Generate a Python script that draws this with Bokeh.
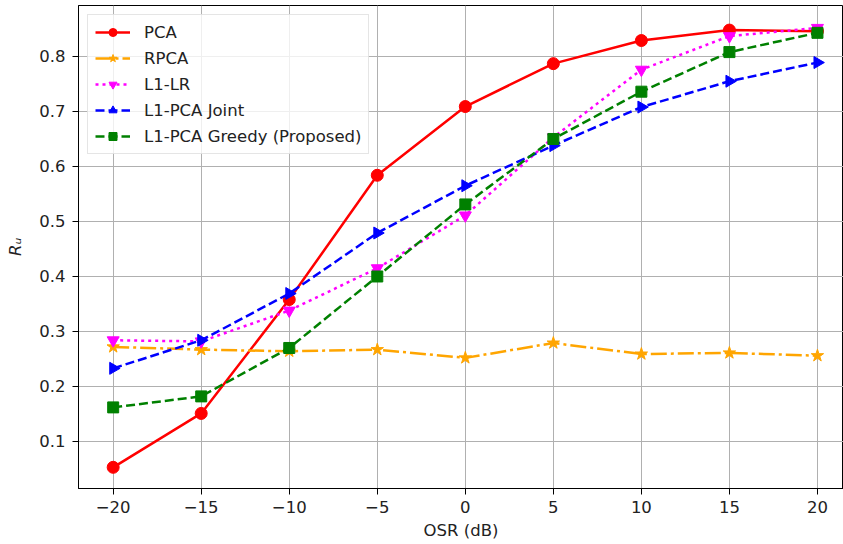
import math
from bokeh.plotting import figure
from bokeh.models import Range1d, FixedTicker, Legend, LegendItem, ColumnDataSource
from bokeh.embed import file_html
from bokeh.resources import INLINE

# ---- data ----
osr = [-20, -15, -10, -5, 0, 5, 10, 15, 20]
pca = [0.053, 0.151, 0.358, 0.584, 0.709, 0.787, 0.829, 0.848, 0.846]
rpca = [0.272, 0.267, 0.264, 0.267, 0.252, 0.279, 0.259, 0.261, 0.256]
l1_lr = [0.284, 0.282, 0.338, 0.415, 0.511, 0.653, 0.776, 0.837, 0.852]
l1_pca_joint = [0.233, 0.284, 0.369, 0.479, 0.565, 0.638, 0.708, 0.755, 0.789]
l1_pca_greedy = [0.162, 0.182, 0.270, 0.400, 0.531, 0.650, 0.736, 0.808, 0.843]

series_names = ["PCA", "RPCA", "L1-LR", "L1-PCA Joint", "L1-PCA Greedy (Proposed)"]
x_ticks = [-20, -15, -10, -5, 0, 5, 10, 15, 20]
x_tick_labels = ["\u221220", "\u221215", "\u221210", "\u22125", "0", "5", "10", "15", "20"]
y_ticks = [0.1, 0.2, 0.3, 0.4, 0.5, 0.6, 0.7, 0.8]
x_label = "OSR (dB)"
y_label = "R\u1d64"

FONT = "DejaVu Sans"
FS = "16.5px"

p = figure(width=843, height=544, output_backend="svg", toolbar_location=None,
           x_range=Range1d(-21.97, 21.48), y_range=Range1d(0.0145, 0.8927),
           min_border_left=78, min_border_right=0, min_border_top=5, min_border_bottom=56)
p.background_fill_color = "white"
p.border_fill_color = "white"
p.outline_line_color = "black"
p.outline_line_width = 1

for ax in (p.xaxis[0], p.yaxis[0]):
    ax.axis_line_color = "black"
    ax.major_tick_line_color = "black"
    ax.major_tick_out = 6
    ax.major_tick_in = 0
    ax.minor_tick_line_color = None
    ax.major_label_text_font = FONT
    ax.major_label_text_font_size = FS
    ax.major_label_text_color = "#222222"
    ax.axis_label_text_font = FONT
    ax.axis_label_text_font_size = FS
    ax.axis_label_text_font_style = "normal"
    ax.axis_label_text_color = "#222222"

p.xaxis.ticker = FixedTicker(ticks=x_ticks)
p.xaxis.major_label_overrides = {t: l for t, l in zip(x_ticks, x_tick_labels)}
p.xaxis.major_label_standoff = 6
p.xaxis.axis_label = x_label
p.xaxis.axis_label_standoff = 5
p.yaxis.ticker = FixedTicker(ticks=y_ticks)
p.yaxis.major_label_standoff = 7
p.yaxis.axis_label = y_label
p.yaxis.axis_label_text_font_style = "italic"
p.yaxis.axis_label_standoff = 11

p.grid.grid_line_color = "#b0b0b0"
p.grid.grid_line_width = 1

styles = [
    dict(color="red", dash="solid", marker="circle", angle=0.0, size=12),
    dict(color="orange", dash="16 4 3 4", marker="star", angle=0.0, size=13),
    dict(color="magenta", dash="3 4", marker="inverted_triangle", angle=0.0, size=12),
    dict(color="blue", dash="9 4", marker="triangle", angle=-math.pi / 2, size=12),
    dict(color="green", dash="9 4", marker="square", angle=0.0, size=11),
]
values = [pca, rpca, l1_lr, l1_pca_joint, l1_pca_greedy]

items = []
for name, ys, st in zip(series_names, values, styles):
    src = ColumnDataSource(dict(x=osr, y=ys, ang=[st["angle"]] * len(osr)))
    ln = p.line("x", "y", source=src, line_color=st["color"], line_width=2.5, line_dash=st["dash"])
    sc = p.scatter("x", "y", source=src, marker=st["marker"], size=st["size"], angle="ang",
                   fill_color=st["color"], line_color=st["color"])
    items.append(LegendItem(label=name, renderers=[ln, sc], index=0))

legend = Legend(items=items, location="top_left", margin=9,
                padding=7, spacing=6, glyph_height=20, glyph_width=35,
                label_standoff=14, label_text_font=FONT, label_text_font_size=FS,
                label_text_color="#222222", label_height=20,
                border_line_color="#cccccc", border_line_width=1,
                background_fill_color="white", background_fill_alpha=0.8)
p.add_layout(legend)

open("out.html", "w").write(file_html(p, INLINE))
